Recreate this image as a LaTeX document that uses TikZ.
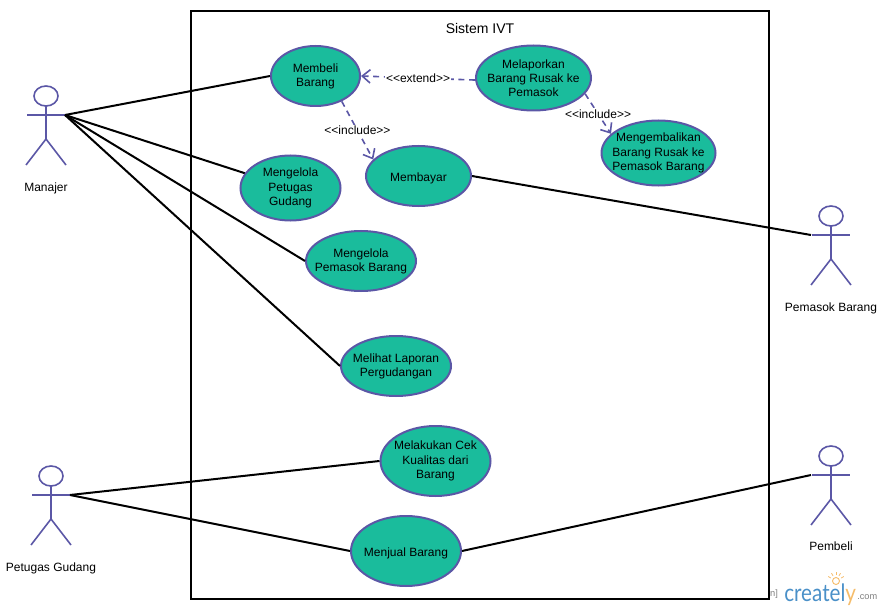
\documentclass[tikz,border=0pt]{standalone}
\usepackage{fontspec}
\setmainfont{Liberation Sans}
\newfontfamily\logofont[FakeStretch=0.86]{Lato}
\usetikzlibrary{shapes.geometric,arrows.meta}
\definecolor{ucfill}{HTML}{1ABC9C}
\definecolor{ucline}{HTML}{5B57A6}
\definecolor{logoblue}{HTML}{4A90C8}
\definecolor{logoorange}{HTML}{F5BC6A}
\tikzset{
  usecase/.style n args={2}{draw=ucline, fill=ucfill, line width=1.5pt, ellipse, align=center,
    inner sep=-30pt, minimum width=#1*0.75pt, minimum height=#2*0.75pt, font=\fontsize{9}{10.6}\selectfont,
    execute at begin node={\rule{0pt}{10pt}}},
  actorname/.style={font=\fontsize{9}{11}\selectfont, inner sep=0pt},
  assoc/.style={draw=black, line width=1.5pt},
  dep/.style={draw=ucline, line width=1.2pt, dash pattern=on 4.5pt off 3.5pt, -{Straight Barb[length=6pt,width=10pt]}},
  deplabel/.style={font=\fontsize{9}{11}\selectfont, fill=white, inner sep=1pt},
  actor/.pic={
    \draw[ucline, line width=1.2pt] (0,0) ellipse (12 and 10);
    \draw[ucline, line width=1.2pt] (0,10) -- (0,43);
    \draw[ucline, line width=1.2pt] (-19,19) -- (19,19);
    \draw[ucline, line width=1.2pt] (-20,69) -- (0,43) -- (20,69);
    \coordinate (-lhand) at (-20,19);
    \coordinate (-rhand) at (19,19);
  }
}
\begin{document}
\begin{tikzpicture}[x=0.75pt, y=-0.75pt]
\useasboundingbox (0,0) rectangle (883,610);
\draw[line width=1.5pt] (191,11) rectangle (769,599);
\node[font=\fontsize{10.5}{12}\selectfont] (title) at (480,28) {Sistem IVT};
% actors
\pic (A1) at (46,96) {actor};
\pic (A2) at (831,216) {actor};
\pic (A3) at (51,476) {actor};
\pic (A4) at (831,456) {actor};
\node[actorname] (A1name) at (46,188) {Manajer};
\node[actorname] (A2name) at (831,308) {Pemasok Barang};
\node[actorname] (A3name) at (51,568) {Petugas Gudang};
\node[actorname] (A4name) at (831,546) {Pembeli};
% use cases
\node[usecase={89}{60}] (U1) at (315.5,76) {Membeli\\Barang};
\node[usecase={115}{65}] (U2) at (533.5,78) {Melaporkan\\Barang Rusak ke\\Pemasok};
\node[usecase={114}{65}] (U3) at (658.5,153) {Mengembalikan\\Barang Rusak ke\\Pemasok Barang};
\node[usecase={105}{60}] (U4) at (418.5,176) {Membayar};
\node[usecase={100}{65}] (U5) at (290.5,188) {Mengelola\\Petugas\\Gudang};
\node[usecase={110}{60}] (U6) at (361,261) {Mengelola\\Pemasok Barang};
\node[usecase={110}{60}] (U7) at (396,366) {Melihat Laporan\\Pergudangan};
\node[usecase={110}{70}] (U8) at (435.5,461) {Melakukan Cek\\Kualitas dari\\Barang};
\node[usecase={110}{70}] (U9) at (406,551) {Menjual Barang};
% associations
\draw[assoc] (A1-rhand) -- (U1.west);
\draw[assoc] (A1-rhand) -- (U5);
\draw[assoc] (A1-rhand) -- (U6.west);
\draw[assoc] (A1-rhand) -- (U7.west);
\draw[assoc] (U4.east) -- (A2-lhand);
\draw[assoc] (A3-rhand) -- (U8.west);
\draw[assoc] (A3-rhand) -- (U9.west);
\draw[assoc] (U9.east) -- (A4-lhand);
% dependencies
\draw[dep] (U2.182) -- node[deplabel] (L1) {<{}<extend>{}>} (U1.east);
\draw[dep] (U1.-44) -- node[deplabel, pos=0.5] (L2) {<{}<include>{}>} (U4.160);
\draw[dep] (U2.-17) -- node[deplabel, pos=0.5] (L3) {<{}<include>{}>} (U3.158);
% logo
\node[font=\fontsize{7}{8}\selectfont, text=gray, inner sep=0pt] (L4) at (774,594) {n]};
\node[font=\logofont\fontsize{18}{20}\selectfont, anchor=base west, inner sep=0pt, text=logoblue] (L5) at (784,601) {createl{\color{logoorange}y}};
\node[font=\fontsize{6.9}{8}\selectfont, text=gray, anchor=base west, inner sep=0pt] (L6) at (857,599) {.com};
\draw[logoorange, line width=0.7pt] (836,581) circle (3.5);
\foreach \a in {-150,-120,-90,-60,-30}
  \draw[logoorange, line width=0.6pt] (836,581) ++(\a:6) -- ++(\a:3);
\end{tikzpicture}
\end{document}
